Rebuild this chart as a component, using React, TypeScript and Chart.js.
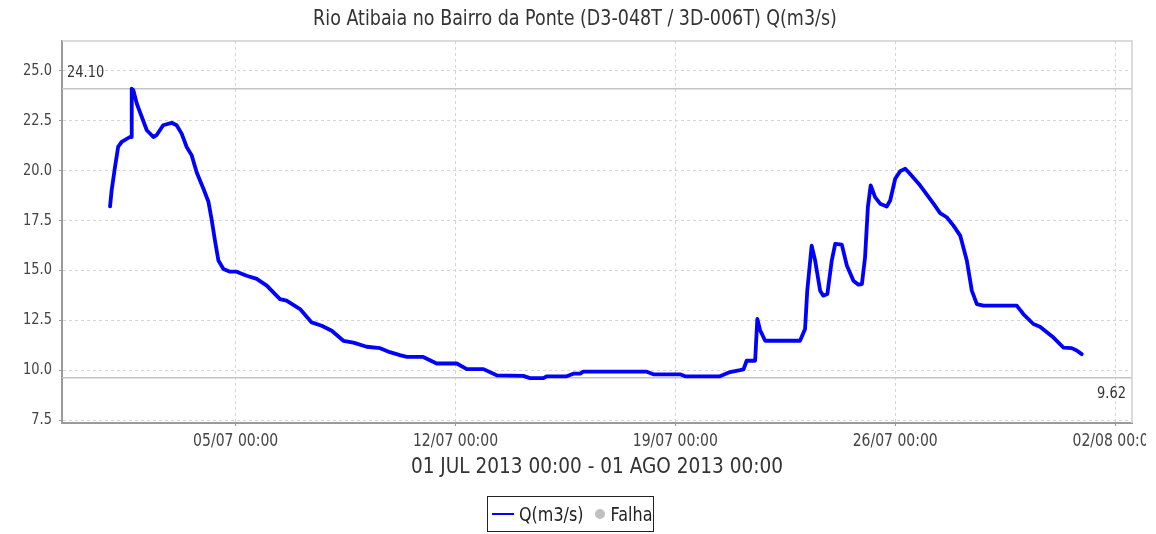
import React, { useEffect, useRef } from "react";
import { Chart, registerables } from "chart.js";

Chart.register(...registerables);

const TITLE = "Rio Atibaia no Bairro da Ponte (D3-048T / 3D-006T) Q(m3/s)";
const X_AXIS_TITLE = "01 JUL 2013 00:00 - 01 AGO 2013 00:00";
const SERIES_LABEL = "Q(m3/s)";
const FAULT_LABEL = "Falha";

// days since 01/07/2013 00:00
const dayOffsets = [
  0.0, 0.05, 0.16, 0.26, 0.37, 0.63, 0.67, 0.69, 0.74, 0.85, 1.17, 1.38, 1.48, 1.69, 1.96, 2.12,
  2.28, 2.44, 2.6, 2.76, 2.97, 3.13, 3.24, 3.34, 3.45, 3.61, 3.82, 4.03, 4.35, 4.67, 4.99, 5.41,
  5.62, 6.05, 6.42, 6.74, 7.06, 7.43, 7.75, 8.17, 8.6, 8.91, 9.23, 9.45, 9.97, 10.4, 11.04, 11.36,
  11.89, 12.31, 13.16, 13.37, 13.8, 13.9, 14.54, 14.75, 14.97, 15.07, 17.09, 17.3, 18.15, 18.31,
  19.42, 19.74, 20.06, 20.17, 20.27, 20.54, 20.61, 20.7, 20.86, 21.97, 22.13, 22.2, 22.34, 22.45,
  22.61, 22.71, 22.84, 22.98, 23.09, 23.3, 23.46, 23.67, 23.83, 23.94, 24.04, 24.13, 24.22, 24.36,
  24.52, 24.73, 24.84, 25.0, 25.16, 25.32, 25.47, 25.79, 26.22, 26.43, 26.64, 26.85, 27.07, 27.28,
  27.44, 27.6, 27.81, 28.87, 29.08, 29.4, 29.61, 30.04, 30.36, 30.62, 30.78, 30.94,
];

const flowValues = [
  18.2, 19.0, 20.2, 21.2, 21.43, 21.68, 21.68, 24.1, 24.03, 23.36, 22.02, 21.68, 21.77, 22.27, 22.39, 22.27,
  21.85, 21.18, 20.76, 19.9, 19.1, 18.45, 17.5, 16.49, 15.49, 15.07, 14.93, 14.93, 14.73, 14.57, 14.23, 13.56,
  13.48, 13.06, 12.39, 12.22, 11.97, 11.47, 11.38, 11.17, 11.1, 10.9, 10.75, 10.66, 10.66, 10.33, 10.33, 10.05,
  10.05, 9.74, 9.71, 9.6, 9.6, 9.69, 9.69, 9.82, 9.82, 9.92, 9.92, 9.79, 9.79, 9.69,
  9.69, 9.9, 10.0, 10.04, 10.47, 10.47, 12.56, 12.0, 11.47, 11.47, 12.06, 13.98, 16.24, 15.49,
  13.98, 13.73, 13.81, 15.49, 16.33, 16.29, 15.24, 14.48, 14.28, 14.31, 15.65, 18.17, 19.26, 18.67,
  18.34, 18.2, 18.5, 19.59, 19.97, 20.09, 19.84, 19.26, 18.34, 17.87, 17.66, 17.25, 16.74, 15.49,
  13.98, 13.31, 13.23, 13.23, 12.81, 12.31, 12.17, 11.63, 11.13, 11.1, 10.98, 10.8,
];

const xTickDays = [4, 11, 18, 25, 32];
const xTickLabels = ["05/07 00:00", "12/07 00:00", "19/07 00:00", "26/07 00:00", "02/08 00:00"];
const yTickValues = [7.5, 10, 12.5, 15, 17.5, 20, 22.5, 25];
const maxFlow = 24.1;
const minFlow = 9.62;

const FONT = "'DejaVu Sans', sans-serif";

function stretchedText(
  ctx: CanvasRenderingContext2D,
  text: string,
  x: number,
  y: number,
  size: number,
  color: string,
  align: CanvasTextAlign,
  sy: number
) {
  ctx.save();
  ctx.translate(x, y);
  ctx.scale(1, sy);
  ctx.font = `${size}px ${FONT}`;
  ctx.fillStyle = color;
  ctx.textAlign = align;
  ctx.textBaseline = "middle";
  ctx.fillText(text, 0, 0);
  ctx.restore();
}

export default function App() {
  const canvasRef = useRef<HTMLCanvasElement | null>(null);

  useEffect(() => {
    const canvas = canvasRef.current;
    if (!canvas) return;

    const decorations = {
      id: "decorations",
      beforeDatasetsDraw(chart: any) {
        const { ctx, chartArea, scales } = chart;
        const y = scales.y;
        ctx.save();
        ctx.strokeStyle = "#c4c4c4";
        ctx.lineWidth = 1.5;
        const yMax = y.getPixelForValue(maxFlow);
        const yMin = y.getPixelForValue(minFlow);
        ctx.beginPath();
        ctx.moveTo(chartArea.left, yMax);
        ctx.lineTo(chartArea.right, yMax);
        ctx.moveTo(chartArea.left, yMin);
        ctx.lineTo(chartArea.right, yMin);
        ctx.stroke();
        ctx.restore();
        stretchedText(ctx, maxFlow.toFixed(2), chartArea.left + 5, yMax - 16, 13, "#333", "left", 1.22);
        stretchedText(ctx, minFlow.toFixed(2), chartArea.right - 6, yMin + 16, 13, "#333", "right", 1.22);
      },
      afterDraw(chart: any) {
        const { ctx, chartArea, scales } = chart;
        ctx.save();
        ctx.strokeStyle = "#cfcfcf";
        ctx.lineWidth = 1.5;
        ctx.beginPath();
        ctx.moveTo(chartArea.left, chartArea.top);
        ctx.lineTo(chartArea.right, chartArea.top);
        ctx.lineTo(chartArea.right, chartArea.bottom);
        ctx.stroke();
        ctx.restore();

        // title
        stretchedText(ctx, TITLE, 575, 19.5, 17.5, "#333", "center", 1.18);
        // x tick labels (the image is cut just short of the right edge, as in the source)
        ctx.save();
        ctx.beginPath();
        ctx.rect(0, 0, 1146, 534);
        ctx.clip();
        xTickDays.forEach((d, i) => {
          const px = scales.x.getPixelForValue(d);
          stretchedText(ctx, xTickLabels[i], px, chartArea.bottom + 18.5, 14, "#444", "center", 1.25);
        });
        ctx.restore();
        // y tick labels
        yTickValues.forEach((v) => {
          const py = scales.y.getPixelForValue(v);
          stretchedText(ctx, v.toFixed(1), chartArea.left - 10, py, 13, "#444", "right", 1.22);
        });
        // x axis title
        stretchedText(
          ctx,
          X_AXIS_TITLE,
          (chartArea.left + chartArea.right) / 2,
          467.5,
          18.5,
          "#333",
          "center",
          1.12
        );
      },
    };

    const chart = new Chart(canvas, {
      type: "line",
      data: {
        datasets: [
          {
            label: SERIES_LABEL,
            data: dayOffsets.map((d, i) => ({ x: d, y: flowValues[i] })),
            borderColor: "#0000ff",
            backgroundColor: "#0000ff",
            borderWidth: 3.8,
            pointRadius: 0,
            tension: 0,
            borderJoinStyle: "round",
            borderCapStyle: "round",
          },
        ],
      },
      options: {
        responsive: false,
        animation: false,
        layout: { padding: { left: 0, right: 24, top: 41, bottom: 0 } },
        plugins: {
          legend: { display: false },
          tooltip: { enabled: false },
          title: { display: false },
        },
        scales: {
          x: {
            type: "linear",
            min: -1.53,
            max: 32.54,
            afterBuildTicks: (scale: any) => {
              scale.ticks = xTickDays.map((v) => ({ value: v }));
            },
            afterFit: (scale: any) => {
              scale.height = 111;
              scale.paddingLeft = 0;
              scale.paddingRight = 0;
            },
            ticks: { display: false },
            grid: { color: "#d4d4d4", lineWidth: 1, tickLength: 3, tickColor: "#999" },
            border: { display: true, color: "#9a9a9a", width: 2, dash: [3, 3] },
          },
          y: {
            type: "linear",
            min: 7.35,
            max: 26.49,
            afterBuildTicks: (scale: any) => {
              scale.ticks = yTickValues.map((v) => ({ value: v }));
            },
            afterFit: (scale: any) => {
              scale.width = 62;
              scale.paddingTop = 0;
              scale.paddingBottom = 0;
            },
            ticks: { display: false },
            grid: { color: "#d4d4d4", lineWidth: 1, tickLength: 3, tickColor: "#999" },
            border: { display: true, color: "#9a9a9a", width: 2, dash: [3, 3] },
          },
        },
      },
      plugins: [decorations],
    });

    return () => chart.destroy();
  }, []);

  const stretch: React.CSSProperties = { display: "inline-block", transform: "scaleY(1.2)" };

  return (
    <div style={{ position: "absolute", left: 0, top: 0, width: 1156, height: 534, background: "#fff" }}>
      <canvas ref={canvasRef} width={1156} height={534} style={{ width: 1156, height: 534, display: "block" }} />
      <div
        style={{
          position: "absolute",
          left: 487,
          top: 496,
          width: 167,
          height: 36,
          boxSizing: "border-box",
          border: "1px solid #222",
          display: "flex",
          alignItems: "center",
          paddingLeft: 4,
          fontFamily: FONT,
          fontSize: 16,
          color: "#222",
          whiteSpace: "nowrap",
        }}
      >
        <span style={{ display: "inline-block", width: 22, height: 2.5, background: "#0000ff", marginRight: 5 }} />
        <span style={stretch}>{SERIES_LABEL}</span>
        <span
          style={{
            display: "inline-block",
            width: 10,
            height: 10,
            borderRadius: 5,
            background: "#c0c0c0",
            marginLeft: 11,
            marginRight: 6,
          }}
        />
        <span style={stretch}>{FAULT_LABEL}</span>
      </div>
    </div>
  );
}
